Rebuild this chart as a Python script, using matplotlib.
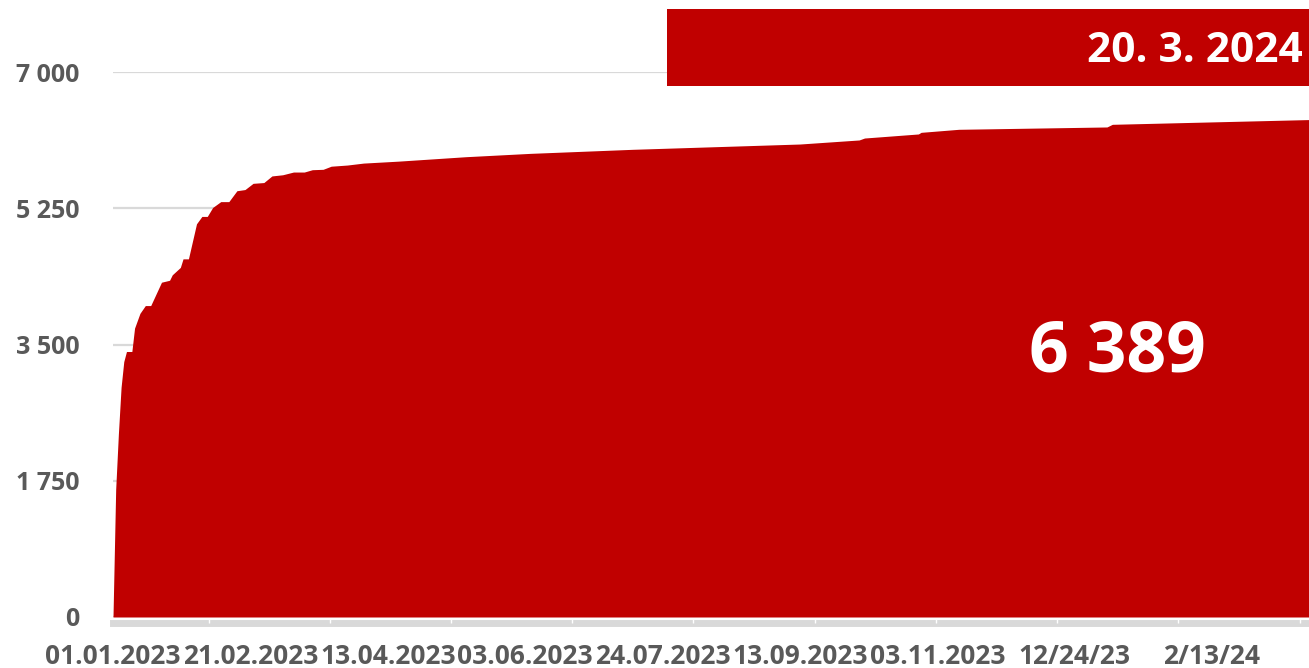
import datetime as dt
import matplotlib
matplotlib.use("Agg")
import matplotlib.pyplot as plt
import matplotlib.dates as mdates
from matplotlib.patches import Rectangle
from matplotlib.ticker import FixedLocator

# cumulative count
dates = [
    "2023-01-01", "2023-01-02", "2023-01-03", "2023-01-04", "2023-01-05",
    "2023-01-06", "2023-01-08", "2023-01-09", "2023-01-11", "2023-01-13",
    "2023-01-15", "2023-01-17", "2023-01-19", "2023-01-22", "2023-01-23",
    "2023-01-26", "2023-01-27", "2023-01-29", "2023-02-01", "2023-02-03",
    "2023-02-05", "2023-02-07", "2023-02-10", "2023-02-13", "2023-02-16",
    "2023-02-19", "2023-02-22", "2023-02-26", "2023-03-01", "2023-03-05",
    "2023-03-09", "2023-03-13", "2023-03-16", "2023-03-20", "2023-03-23",
    "2023-03-29", "2023-04-04", "2023-04-17", "2023-05-12", "2023-06-05",
    "2023-07-13", "2023-09-13", "2023-10-05", "2023-10-07", "2023-10-27",
    "2023-10-28", "2023-11-11", "2024-01-05", "2024-01-07", "2024-03-20",
]
values = [
    0, 1640, 2350, 2950, 3280,
    3410, 3410, 3710, 3900, 4000,
    4000, 4150, 4300, 4325, 4395,
    4490, 4600, 4600, 5050, 5145,
    5145, 5260, 5335, 5335, 5475,
    5490, 5570, 5580, 5665, 5680,
    5715, 5715, 5745, 5750, 5790,
    5805, 5830, 5855, 5912, 5955,
    6007, 6075, 6127, 6152, 6204,
    6225, 6264, 6294, 6328, 6389,
]

tick_dates = ["2023-01-01", "2023-02-21", "2023-04-13", "2023-06-03", "2023-07-24",
              "2023-09-13", "2023-11-03", "2023-12-24", "2024-02-13"]
tick_labels = ["01.01.2023", "21.02.2023", "13.04.2023", "03.06.2023", "24.07.2023",
               "13.09.2023", "03.11.2023", "12/24/23", "2/13/24"]
y_ticks = [0, 1750, 3500, 5250, 7000]

date_label = "20. 3. 2024"
total_label = "6 389"

RED = "#C00000"
GREY_TXT = "#595959"
GRID = "#D9D9D9"

plt.rcParams["font.family"] = ["Open Sans", "DejaVu Sans"]
plt.rcParams["font.weight"] = "bold"

x = [dt.datetime.strptime(d, "%Y-%m-%d") for d in dates]
tx = [mdates.date2num(dt.datetime.strptime(d, "%Y-%m-%d")) for d in tick_dates]

fig = plt.figure(figsize=(13.09, 6.68), dpi=100)
ax = fig.add_axes([113 / 1309, 51 / 668, 1196 / 1309, 545 / 668])

ax.fill_between(x, values, 0, color=RED, linewidth=0, zorder=3)

ax.set_xlim(x[0], x[-1])
ax.set_ylim(0, 7000)

ax.set_yticks(y_ticks)
ax.set_yticklabels([f"{v:,}".replace(",", " ") for v in y_ticks])
ax.grid(axis="y", color=GRID, linewidth=1.6, zorder=0)
ax.tick_params(axis="y", length=0, pad=24, labelsize=18, labelcolor=GREY_TXT)

ax.xaxis.set_major_locator(FixedLocator(tx))
ax.set_xticklabels(tick_labels)
ax.xaxis.set_minor_locator(FixedLocator([tx[0] + 35.5 + 45 * k for k in range(10)]))
ax.tick_params(axis="x", which="major", length=0, pad=15, labelsize=19, labelcolor=GREY_TXT)
ax.tick_params(axis="x", which="minor", length=3, width=1, color="white", direction="in")

for s in ["top", "right", "left"]:
    ax.spines[s].set_visible(False)
ax.spines["bottom"].set_color(GRID)
ax.spines["bottom"].set_linewidth(5)
ax.spines["bottom"].set_position(("outward", 4))
ax.spines["bottom"].set_zorder(1)

# date box at top right
fig.patches.append(Rectangle((667 / 1309, (668 - 86) / 668), (1309 - 667) / 1309, 77 / 668,
                             transform=fig.transFigure, facecolor=RED, edgecolor="none", zorder=5))
fig.text(1303 / 1309, (668 - 52) / 668, date_label, ha="right", va="center", color="white",
         fontsize=30.5, zorder=6)

ax.text((1117 - 113) / 1196, (617 - 354) / 545, total_label,
        transform=ax.transAxes, ha="center", va="center", color="white",
        fontsize=50, zorder=6)

fig.savefig("out.png", dpi=100)
